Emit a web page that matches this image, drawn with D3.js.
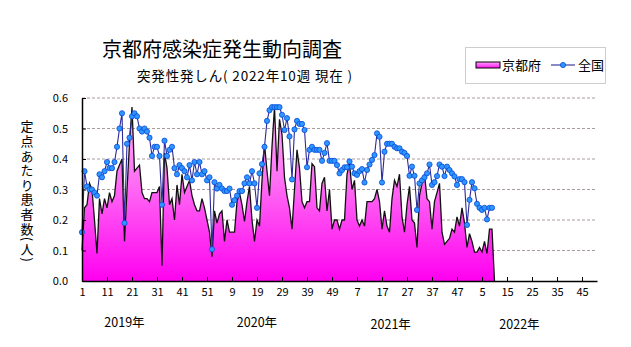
<!DOCTYPE html>
<html><head><meta charset="utf-8">
<script src="https://cdn.jsdelivr.net/npm/d3@7"></script>
<style>
body{margin:0;background:#fff;}
svg{display:block;}
text{font-family:"Noto Sans CJK JP","Noto Sans",sans-serif;fill:#000;}
</style>
</head><body>
<svg id="chart" width="631" height="347"></svg>
<script>
// ---- data ----
const title = "京都府感染症発生動向調査";
const subtitle = "突発性発しん( 2022年10週 現在 )";
const seriesNames = ["京都府", "全国"];
const yAxisTitle = "定点あたり患者数(人)";
const weekTickLabels = ["1","11","21","31","41","51","9","19","29","39","49","7","17","27","37","47","5","15","25","35","45"];
const yearLabels = ["2019年","2020年","2021年","2022年"];
const yTickValues = [0, 0.1, 0.2, 0.3, 0.4, 0.5, 0.6];

// 京都府 (weekly, from 2019 week 1)
const kyoto = [
  0.10,0.24,0.25,0.32,0.30,0.20,0.09,0.27,0.22,0.27,0.24,0.29,0.26,
  0.28,0.36,0.38,0.40,0.13,0.30,0.45,0.57,0.36,0.37,0.38,0.29,0.27,0.27,
  0.26,0.29,0.29,0.29,0.31,0.05,0.42,0.37,0.25,0.27,0.20,0.315,0.25,
  0.35,0.29,0.31,0.33,0.28,0.25,0.23,0.23,0.27,0.24,0.20,0.16,
  0.08,0.23,0.19,0.22,0.23,0.13,0.20,0.16,0.16,0.16,0.26,0.29,0.25,
  0.195,0.26,0.31,0.20,0.13,0.20,0.18,0.33,0.45,0.36,0.28,0.44,0.57,
  0.36,0.53,0.48,0.34,0.28,0.24,0.17,0.30,0.43,0.37,0.26,0.24,0.26,
  0.26,0.385,0.375,0.24,0.23,0.32,0.34,0.23,0.30,0.17,0.20,0.20,0.17,
  0.20,0.20,0.35,0.385,0.30,0.33,0.20,0.18,0.20,0.18,0.26,0.26,0.26,
  0.27,0.30,0.26,0.17,0.23,0.18,0.16,0.27,0.33,0.31,0.35,0.21,0.16,
  0.25,0.31,0.20,0.19,0.11,0.28,0.32,0.35,0.27,0.26,0.17,0.26,0.29,
  0.32,0.16,0.12,0.13,0.14,0.17,0.16,0.21,0.18,0.24,0.19,0.11,0.155,
  0.13,0.095,0.095,0.11,0.095,0.13,0.09,0.17,0.17,0
];

// 全国 (weekly, from 2019 week 1)
const national = [
  0.16,0.36,0.31,0.30,0.30,0.29,0.28,0.35,0.34,0.36,0.39,0.37,0.37,
  0.39,0.44,0.50,0.55,0.19,0.45,0.47,0.54,0.55,0.54,0.50,0.49,0.50,0.49,
  0.47,0.41,0.44,0.44,0.41,0.25,0.46,0.41,0.43,0.44,0.37,0.35,0.38,
  0.37,0.36,0.34,0.38,0.33,0.39,0.35,0.39,0.35,0.36,0.33,0.34,
  0.104,0.324,0.303,0.315,0.303,0.295,0.295,0.303,0.25,0.265,0.28,0.295,0.295,
  0.32,0.34,0.32,0.36,0.32,0.24,0.353,0.383,0.44,0.525,0.56,0.57,0.57,
  0.57,0.57,0.545,0.495,0.534,0.474,0.333,0.497,0.525,0.515,0.515,0.495,0.373,
  0.43,0.44,0.43,0.43,0.43,0.394,0.42,0.452,0.394,0.394,0.394,0.38,0.353,
  0.364,0.373,0.373,0.392,0.375,0.353,0.348,0.36,0.367,0.323,0.364,0.382,0.397,
  0.413,0.484,0.473,0.323,0.424,0.45,0.45,0.45,0.44,0.435,0.435,0.424,0.42,
  0.41,0.345,0.375,0.345,0.233,0.32,0.33,0.34,0.353,0.382,0.315,0.324,0.344,
  0.382,0.375,0.344,0.375,0.364,0.353,0.343,0.315,0.334,0.334,0.324,0.184,0.266,
  0.324,0.304,0.253,0.24,0.233,0.24,0.202,0.24,0.24
];

// ---- layout ----
const plot = {left: 82, right: 597, top: 98, bottom: 281};
const xMaxIndex = 206;
const yearLabelIndex = [17, 70, 123.5, 175];

const svg = d3.select("#chart");

const x = d3.scaleLinear().domain([0, xMaxIndex]).range([plot.left, plot.right]);
const y = d3.scaleLinear().domain([0, 0.6]).range([plot.bottom, plot.top]);

// gradients
const defs = svg.append("defs");
const grad = defs.append("linearGradient").attr("id","pinkGrad")
  .attr("gradientUnits","userSpaceOnUse")
  .attr("x1",0).attr("x2",0).attr("y1",y(0.6)).attr("y2",y(0));
grad.append("stop").attr("offset","0%").attr("stop-color","#ffb8ff");
grad.append("stop").attr("offset","45%").attr("stop-color","#ff70f4");
grad.append("stop").attr("offset","100%").attr("stop-color","#ff00f0");
const grad2 = defs.append("linearGradient").attr("id","legGrad")
  .attr("x1",0).attr("x2",0).attr("y1",0).attr("y2",1);
grad2.append("stop").attr("offset","0%").attr("stop-color","#ffa0ff");
grad2.append("stop").attr("offset","100%").attr("stop-color","#ff10f0");

// titles
svg.append("text").attr("x",102).attr("y",57)
  .attr("font-size",20).text(title);
svg.append("text").attr("x",137).attr("y",81)
  .attr("font-size",13.5).attr("textLength",215).attr("lengthAdjust","spacing")
  .text(subtitle);

// gridlines
svg.append("g").selectAll("line")
  .data(yTickValues.filter(v => v > 0))
  .join("line")
  .attr("x1", plot.left).attr("x2", plot.right)
  .attr("y1", d => y(d)).attr("y2", d => y(d))
  .attr("stroke", "#a89c9c").attr("stroke-width", 1)
  .attr("stroke-dasharray", "3,2");

// Kyoto area + outline
const area = d3.area().x((d,i) => x(i)).y0(y(0)).y1(d => y(d));
svg.append("path").datum(kyoto).attr("d", area).attr("fill", "url(#pinkGrad)");
const line = d3.line().x((d,i) => x(i)).y(d => y(d));
svg.append("path").datum(kyoto).attr("d", line).attr("fill","none")
  .attr("stroke","#111").attr("stroke-width",1.3);

// National line + markers
svg.append("path").datum(national).attr("d", line).attr("fill","none")
  .attr("stroke","#2a2a9a").attr("stroke-width",1.1);
svg.append("g").selectAll("circle")
  .data(national).join("circle")
  .attr("cx",(d,i) => x(i)).attr("cy", d => y(d))
  .attr("r",2.6).attr("fill","#2e96ff")
  .attr("stroke","#0a4ad8").attr("stroke-width",0.8);

// axes
const yAxis = d3.axisLeft(y).tickValues(yTickValues)
  .tickFormat(d3.format(".1f")).tickSizeInner(-4).tickSizeOuter(0).tickPadding(14);
const gy = svg.append("g").attr("transform",`translate(${plot.left},0)`).call(yAxis);
gy.select(".domain").attr("stroke","#000").attr("stroke-width",1.5);
gy.selectAll(".tick line").attr("stroke","#000");
gy.selectAll("text").attr("font-size",11).attr("font-family","'Noto Sans CJK JP',sans-serif").attr("fill","#000");

const xAxis = d3.axisBottom(x)
  .tickValues(d3.range(0, weekTickLabels.length*10, 10))
  .tickFormat((d,i) => weekTickLabels[i])
  .tickSizeInner(-4).tickSizeOuter(0).tickPadding(7);
const gx = svg.append("g").attr("transform",`translate(0,${plot.bottom})`).call(xAxis);
gx.select(".domain").attr("stroke","#000").attr("stroke-width",1.5);
gx.selectAll(".tick line").attr("stroke","#000");
gx.selectAll("text").attr("font-size",11).attr("font-family","'Noto Sans CJK JP',sans-serif").attr("fill","#000");

// year labels
svg.append("g").selectAll("text").data(yearLabels).join("text")
  .attr("x",(d,i) => x(yearLabelIndex[i]))
  .attr("y",(d,i) => i < 2 ? 327 : 329)
  .attr("text-anchor","middle").attr("font-size",12.5)
  .text(d => d);

// y axis title (vertical writing)
svg.append("text")
  .attr("x",27).attr("y",120)
  .attr("font-size",13)
  .style("writing-mode","vertical-rl")
  .style("letter-spacing","1.6px")
  .text(yAxisTitle);

// legend
const lg = svg.append("g");
lg.append("rect").attr("x",465.5).attr("y",47.5).attr("width",140).attr("height",36)
  .attr("fill","#fff").attr("stroke","#9a9a9a").attr("stroke-width",1)
  .attr("stroke-dasharray","1,1");
lg.append("rect").attr("x",476).attr("y",62).attr("width",24).attr("height",6)
  .attr("fill","url(#legGrad)").attr("stroke","#000").attr("stroke-width",1);
lg.append("text").attr("x",502).attr("y",70).attr("font-size",13).text(seriesNames[0]);
lg.append("line").attr("x1",551).attr("x2",575).attr("y1",65).attr("y2",65)
  .attr("stroke","#2a2a9a").attr("stroke-width",1.1);
lg.append("circle").attr("cx",563).attr("cy",65).attr("r",2.6)
  .attr("fill","#2e96ff").attr("stroke","#0a4ad8").attr("stroke-width",0.8);
lg.append("text").attr("x",578).attr("y",70).attr("font-size",13).text(seriesNames[1]);
</script>
</body></html>
